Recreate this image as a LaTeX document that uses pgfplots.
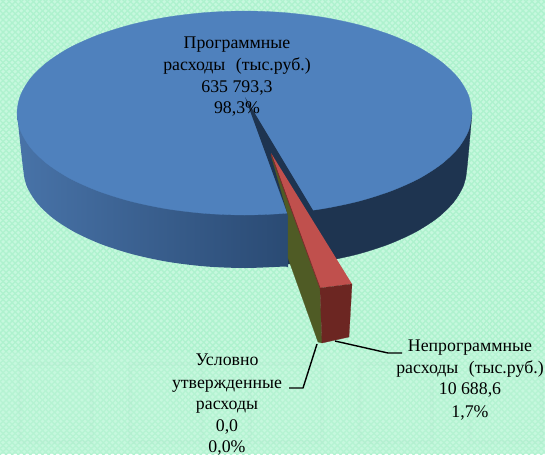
\documentclass[border=0pt]{standalone}
\usepackage{pgfplots}
\pgfplotsset{compat=1.18}
\usepackage{fontspec}
\setmainfont{Liberation Serif}
\usetikzlibrary{patterns.meta}
\definecolor{bgbase}{HTML}{C6F8DE}
\definecolor{bgdot}{HTML}{AEF2CE}
\definecolor{pietop}{HTML}{4F81BD}
\definecolor{wallL}{HTML}{4873A8}
\definecolor{wallR}{HTML}{2A4A73}
\definecolor{navy}{HTML}{1E3450}
\definecolor{redtop}{HTML}{C0504D}
\definecolor{redfront}{HTML}{6C2622}
\definecolor{olive}{HTML}{4F5B25}
\begin{document}
\begin{tikzpicture}[x=1pt,y=1pt]
\fill[bgbase] (0,0) rectangle (545,454);
\fill[pattern={Lines[angle=45,distance=4.3pt,line width=1.3pt]},pattern color=bgdot] (0,0) rectangle (545,454);
\fill[pattern={Lines[angle=-45,distance=4.3pt,line width=1.3pt]},pattern color=bgdot] (0,0) rectangle (545,454);
\fill[bgbase,opacity=.3] (0,0) rectangle (545,102);
\foreach \xa in {20,130,250,360,470}{
  \draw[gray,opacity=.02,line width=4pt] (\xa,12) rectangle ++(72,78);
}
\begin{axis}[at={(0,0)},anchor=south west,scale only axis,width=545pt,height=454pt,
  xmin=0,xmax=545,ymin=0,ymax=454,y dir=reverse,hide axis,clip=false,
  every axis plot/.append style={no markers,forget plot,line join=round}]
% left wall
\addplot[smooth,left color=wallL,right color=wallR,draw=none] coordinates {(288,200)(288,262)(287.7,267)(283.5,266.6)(245,268)(206.5,266.5)(169,262)(134,254.6)(102.3,244.6)(75,232.3)(52.7,218)(36.4,202.2)(26.4,185.4)(23,168)(17,113)} -- (axis cs:288,113) --cycle;
% right wall
\addplot[smooth,fill=navy,draw=navy,line width=.3pt] coordinates {(310,262.8)(320.9,262)(356,254.6)(387.7,244.6)(415,232.3)(437.3,218)(453.6,202.2)(463.6,185.4)(467,168)(472,113)} -- (axis cs:310,113) --cycle;
% top surface
\addplot[smooth,fill=pietop,draw=pietop,line width=.3pt] coordinates {(472,113)(468.5,130.7)(458.3,147.9)(441.5,164)(418.8,178.6)(390.7,191.1)(358.3,201.3)(322.3,208.8)(284,213.4)(244.5,215)(205,213.4)(166.7,208.8)(130.8,201.3)(98.3,191.1)(70.2,178.6)(47.5,164)(30.7,147.9)(20.5,130.7)(17,113)(20.5,95.3)(30.7,78.1)(47.5,62)(70.2,47.4)(98.3,34.9)(130.8,24.7)(166.7,17.2)(205,12.6)(244.5,11)(284,12.6)(322.3,17.2)(358.3,24.7)(390.7,34.9)(418.8,47.4)(441.5,62)(458.3,78.1)(468.5,95.3)(472,113)} --cycle;
% gap (inner wall)
\addplot[fill=navy,draw=none] coordinates {(245,97)(313,210.3)(313,264)(288,264)(288,215)} --cycle;
% small slice wall
\addplot[fill=olive,draw=olive,line width=.2pt] coordinates {(271,155)(320,288)(322,343)(318,342)(288,258)(288,215.5)} --cycle;
% red slice
\addplot[fill=redtop,draw=none] coordinates {(271,153)(352,284)(320,288)} --cycle;
\addplot[draw=redfront!80!redtop,line width=.8pt] coordinates {(271,154)(320,288)};
\addplot[fill=redfront,draw=redfront,line width=.2pt] coordinates {(320,288)(352,284)(349,337)(322,343)} --cycle;
% leaders
\addplot[black,line width=1.4pt] coordinates {(335,341)(388,353)(402,353)};
\addplot[black,line width=1.4pt] coordinates {(317,344)(303,388)(289,388)};
% labels
\tikzset{lab/.style={anchor=base,inner sep=0pt,text=black,font=\fontsize{17.8}{20}\selectfont}}
\node[lab] at (axis cs:237,48) {Программные};
\node[lab] at (axis cs:237,70) {расходы\hspace{6pt} (тыс.руб.)};
\node[lab] at (axis cs:237,92) {635 793,3};
\node[lab] at (axis cs:237,113) {98,3\%};
\node[lab] at (axis cs:470,351) {Непрограммные};
\node[lab] at (axis cs:470,373) {расходы\hspace{6pt} (тыс.руб.)};
\node[lab] at (axis cs:470,394) {10 688,6};
\node[lab] at (axis cs:470,417) {1,7\%};
\node[lab] at (axis cs:227,365) {Условно};
\node[lab] at (axis cs:227,388) {утвержденные};
\node[lab] at (axis cs:227,409) {расходы};
\node[lab] at (axis cs:227,431) {0,0};
\node[lab] at (axis cs:227,452) {0,0\%};
\end{axis}
\path[use as bounding box] (0,0) rectangle (545,454);
\end{tikzpicture}
\end{document}
